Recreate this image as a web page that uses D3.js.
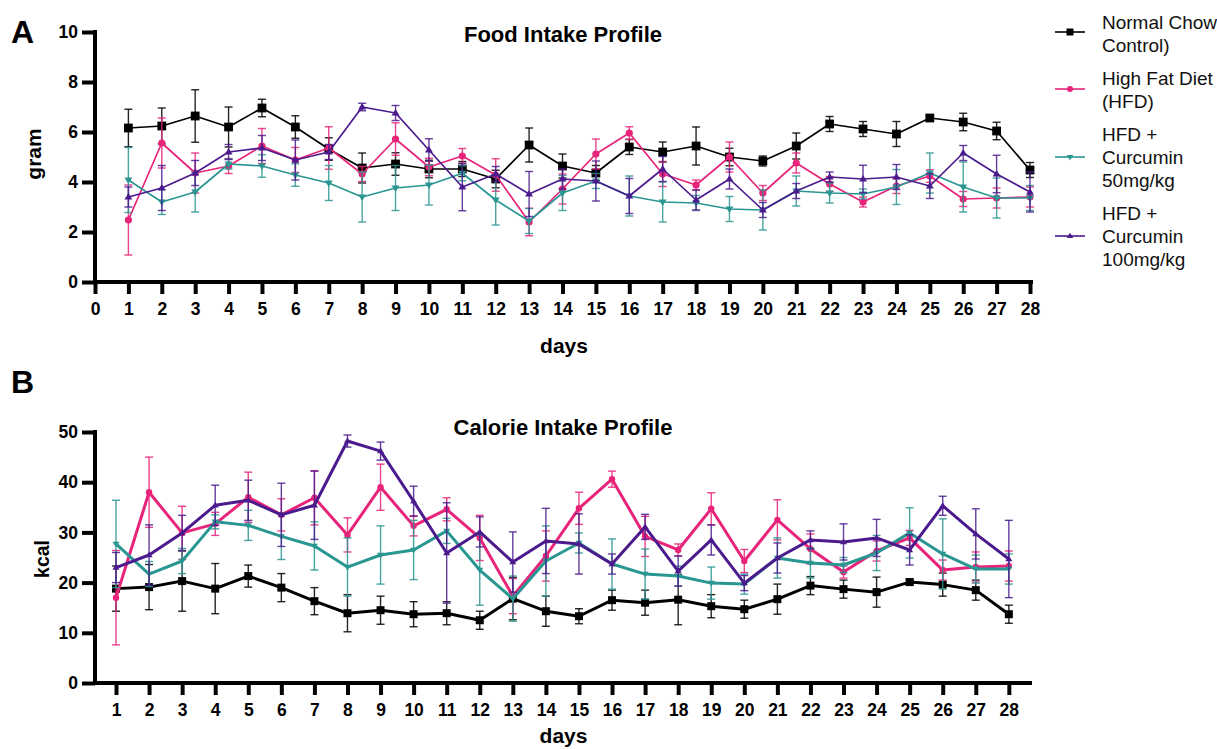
<!DOCTYPE html>
<html><head><meta charset="utf-8">
<script src="https://cdn.jsdelivr.net/npm/d3@7"></script>
<style>body{margin:0;background:#fff}svg{display:block;font-family:Arial,"Liberation Sans",sans-serif}</style>
</head><body>
<svg id="c" width="1217" height="749"></svg>
<script>
const days = d3.range(1, 29);
const seriesNames = ["Normal Chow Control)", "High Fat Diet (HFD)", "HFD + Curcumin 50mg/kg", "HFD + Curcumin 100mg/kg"];
const legendLines = [["Normal Chow","Control)"],["High Fat Diet","(HFD)"],["HFD +","Curcumin","50mg/kg"],["HFD +","Curcumin","100mg/kg"]];
const colors = ["#000000", "#e8247a", "#2a9692", "#4b1b8e"];
const symbols = ["square", "circle", "down", "up"];

// Panel A: food intake (gram)
const foodNC   = [6.16,6.24,6.64,6.2,6.96,6.2,5.32,4.56,4.72,4.52,4.52,4.12,5.48,4.64,4.36,5.4,5.2,5.44,5.0,4.84,5.44,6.32,6.12,5.92,6.56,6.4,6.04,4.48];
const foodNCe  = [0.75,0.72,1.05,0.8,0.35,0.45,0.45,0.6,0.45,0.35,0.3,0.35,0.68,0.48,0.3,0.3,0.4,0.76,0.35,0.2,0.52,0.3,0.3,0.5,0.1,0.35,0.35,0.3];
const foodHFD  = [2.48,5.56,4.36,4.64,5.44,4.88,5.36,4.32,5.72,4.6,5.04,4.28,2.4,3.72,5.12,5.96,4.32,3.88,5.0,3.56,4.76,3.92,3.2,3.84,4.24,3.32,3.36,3.4];
const foodHFDe = [1.4,1.0,0.8,0.3,0.7,0.5,0.85,0.3,0.65,0.35,0.3,0.65,0.55,0.6,0.6,0.25,0.5,0.2,0.6,0.3,0.4,0.3,0.2,0.3,0.25,0.3,0.4,0.4];
const foodC50  = [4.08,3.2,3.6,4.72,4.64,4.28,3.96,3.4,3.76,3.88,4.35,3.28,2.44,3.56,4.04,3.44,3.2,3.16,2.92,2.88,3.64,3.56,3.52,3.8,4.36,3.8,3.36,3.36];
const foodC50e = [1.3,0.5,0.8,0.2,0.45,0.45,0.7,1.0,0.9,0.8,0.3,1.0,0.5,0.7,0.3,0.8,0.8,0.3,0.5,0.8,0.6,0.4,0.2,0.7,0.8,1.0,0.8,0.5];
const foodC100 = [3.4,3.76,4.36,5.2,5.36,4.88,5.2,7.0,6.76,5.28,3.8,4.32,3.52,4.12,4.04,3.44,4.52,3.28,4.12,2.88,3.64,4.2,4.12,4.2,3.84,5.16,4.32,3.6];
const foodC100e= [0.4,0.9,0.5,0.3,0.5,0.8,0.3,0.15,0.3,0.45,0.95,0.3,0.9,0.4,0.8,0.7,0.5,0.4,0.4,0.3,0.3,0.2,0.55,0.5,0.5,0.3,0.75,0.8];

// Panel B: calorie intake (kcal)
const calNC   = [18.8,19.1,20.3,18.8,21.3,19.0,16.3,13.9,14.5,13.7,13.9,12.5,16.8,14.3,13.3,16.5,16.0,16.6,15.3,14.7,16.7,19.4,18.7,18.1,20.1,19.6,18.5,13.7];
const calNCe  = [4.5,4.5,6.0,5.0,2.2,2.8,2.7,3.7,2.8,2.5,2.3,1.8,4.2,3.0,1.5,2.0,2.5,5.0,2.3,1.8,3.0,1.8,1.8,3.0,0.6,2.3,2.0,1.8];
const calHFD  = [17.0,38.0,29.9,31.7,37.0,33.5,36.9,29.5,39.0,31.3,34.6,28.9,17.3,25.3,34.8,40.6,29.2,26.5,34.7,24.3,32.5,26.7,22.1,26.3,28.9,22.5,23.1,23.3];
const calHFDe = [9.4,7.0,5.3,2.3,5.0,3.2,5.4,3.4,4.6,2.0,2.3,4.5,3.5,5.0,3.2,1.6,4.0,1.2,3.2,2.3,4.0,3.0,1.2,2.0,1.5,2.0,3.0,3.0];
const calC50  = [27.7,21.7,24.3,32.1,31.4,29.2,27.3,23.1,25.5,26.5,30.3,22.5,16.8,24.3,27.9,23.7,21.7,21.3,19.9,19.7,24.9,23.9,23.5,25.9,29.9,25.7,22.7,22.7];
const calC50e = [8.7,2.5,2.5,1.4,3.0,4.6,4.8,5.8,5.8,5.9,2.5,7.0,4.5,7.0,2.0,5.0,5.0,2.0,3.2,2.0,4.0,3.0,1.5,3.5,5.0,7.0,2.8,3.0];
const calC100 = [23.0,25.5,29.9,35.4,36.4,33.5,35.4,48.2,46.2,36.2,25.9,30.1,24.1,28.3,27.7,23.7,31.1,22.3,28.5,19.9,24.9,28.5,28.1,28.9,26.5,35.3,29.7,24.7];
const calC100e= [3.0,6.0,3.5,4.0,4.0,6.3,6.8,1.2,1.8,3.0,10.0,3.0,6.0,6.5,6.0,2.0,2.5,3.0,3.0,1.5,3.0,1.8,3.6,3.7,3.0,1.9,5.0,7.7];

const yTicksA = [0,2,4,6,8,10];
const xTicksA = d3.range(0, 29);
const yTicksB = [0,10,20,30,40,50];
const xTicksB = d3.range(1, 29);

const svg = d3.select("#c");

function symbolPath(kind, size) {
  const s = size;
  if (kind === "square") return `M${-s},${-s}H${s}V${s}H${-s}Z`;
  if (kind === "circle") return d3.symbol(d3.symbolCircle, Math.PI * s * s)();
  if (kind === "down") return `M${-s*1.1},${-s*0.7}H${s*1.1}L0,${s*1.1}Z`;
  return `M${-s*1.1},${s*0.7}H${s*1.1}L0,${-s*1.1}Z`;
}

function panel(opt) {
  const g = svg.append("g");
  const x = d3.scaleLinear().domain(opt.xDomain).range([95, opt.xRight]);
  const y = d3.scaleLinear().domain(opt.yDomain).range([opt.yBottom, opt.yTop]);
  const AW = 4;

  const ax = g.append("g").attr("transform", `translate(0,${opt.yBottom})`)
    .call(d3.axisBottom(x).tickValues(opt.xTicks).tickSize(12).tickSizeOuter(0).tickPadding(9).tickFormat(d3.format("d")));
  const ay = g.append("g").attr("transform", `translate(95,0)`)
    .call(d3.axisLeft(y).tickValues(opt.yTicks).tickSize(13).tickSizeOuter(0).tickPadding(4).tickFormat(d3.format("d")));
  [ax, ay].forEach(a => {
    a.select(".domain").remove();
    a.selectAll(".tick line").attr("stroke", "#000").attr("stroke-width", AW);
    a.selectAll(".tick text").attr("fill", "#000").attr("font-size", 17.5).attr("font-weight", "bold")
      .attr("font-family", "Arial, 'Liberation Sans', sans-serif");
  });
  g.append("line").attr("x1", 95 - AW / 2).attr("x2", opt.xLineEnd).attr("y1", opt.yBottom).attr("y2", opt.yBottom)
    .attr("stroke", "#000").attr("stroke-width", AW);
  g.append("line").attr("x1", 95).attr("x2", 95).attr("y1", opt.yTop - AW / 2).attr("y2", opt.yBottom + AW / 2)
    .attr("stroke", "#000").attr("stroke-width", AW);

  opt.series.forEach((s, i) => {
    const col = colors[i];
    const sg = g.append("g");
    const line = d3.line().x((d, j) => x(days[j])).y(d => y(d));
    s.v.forEach((v, j) => {
      const xx = x(days[j]);
      const lo = y(v - s.e[j]), hi = y(v + s.e[j]);
      sg.append("line").attr("x1", xx).attr("x2", xx).attr("y1", lo).attr("y2", hi)
        .attr("stroke", col).attr("stroke-width", opt.ebw).attr("opacity", 0.85);
      [lo, hi].forEach(yy => sg.append("line").attr("x1", xx - 4).attr("x2", xx + 4).attr("y1", yy).attr("y2", yy)
        .attr("stroke", col).attr("stroke-width", opt.ebw).attr("opacity", 0.85));
    });
    sg.append("path").datum(s.v).attr("d", line).attr("fill", "none").attr("stroke", col)
      .attr("stroke-width", opt.lw).attr("stroke-linejoin", "round");
    s.v.forEach((v, j) => {
      sg.append("path").attr("d", symbolPath(symbols[i], i === 0 ? opt.ms + 0.8 : opt.ms))
        .attr("transform", `translate(${x(days[j])},${y(v)})`).attr("fill", col);
    });
  });

  g.append("text").attr("x", 563).attr("y", opt.titleY).attr("text-anchor", "middle")
    .attr("font-size", 22).attr("font-weight", "bold").text(opt.title);
  g.append("text").attr("x", (95 + opt.xLineEnd) / 2).attr("y", opt.xLabelY).attr("text-anchor", "middle")
    .attr("font-size", 21).attr("font-weight", "bold").text("days");
  g.append("text").attr("transform", `translate(${opt.yLabelX},${opt.yLabelY}) rotate(-90)`)
    .attr("text-anchor", "middle").attr("font-size", opt.yLabelSize).attr("font-weight", "bold").text(opt.yLabel);
  g.append("text").attr("x", 11).attr("y", opt.letterY).attr("font-size", 32).attr("font-weight", "bold").text(opt.letter);
}

panel({
  xDomain: [0, 28], xRight: 1030, xLineEnd: 1033, yDomain: [0, 10], yBottom: 282, yTop: 32,
  xTicks: xTicksA, yTicks: yTicksA, lw: 1.7, ebw: 1.4, ms: 3.6,
  series: [{v: foodNC, e: foodNCe}, {v: foodHFD, e: foodHFDe}, {v: foodC50, e: foodC50e}, {v: foodC100, e: foodC100e}],
  title: "Food Intake Profile", titleY: 42, xLabelY: 353, yLabel: "gram", yLabelX: 41, yLabelY: 154, yLabelSize: 21,
  letter: "A", letterY: 43
});
panel({
  xDomain: [0.365, 28.7], xRight: 1032, xLineEnd: 1032, yDomain: [0, 50], yBottom: 683, yTop: 432,
  xTicks: xTicksB, yTicks: yTicksB, lw: 3, ebw: 1.4, ms: 3.2,
  series: [{v: calNC, e: calNCe}, {v: calHFD, e: calHFDe}, {v: calC50, e: calC50e}, {v: calC100, e: calC100e}],
  title: "Calorie Intake Profile", titleY: 435, xLabelY: 743, yLabel: "kcal", yLabelX: 49, yLabelY: 559, yLabelSize: 19.5,
  letter: "B", letterY: 393
});

// legend
const lg = svg.append("g");
const legendY = [32, 89, 157, 236];
const textTop = [22, 78, 134, 213];
legendLines.forEach((lines, i) => {
  lg.append("line").attr("x1", 1055).attr("x2", 1085).attr("y1", legendY[i]).attr("y2", legendY[i])
    .attr("stroke", colors[i]).attr("stroke-width", 1.6);
  lg.append("path").attr("d", symbolPath(symbols[i], i === 0 ? 3.5 : 3)).attr("transform", `translate(1070,${legendY[i]})`)
    .attr("fill", colors[i]);
  lines.forEach((t, k) => {
    lg.append("text").attr("x", 1102).attr("y", textTop[i] + k * 23).attr("dy", "0.35em")
      .attr("font-size", 19).attr("fill", "#111").text(t);
  });
});
</script>
</body></html>
